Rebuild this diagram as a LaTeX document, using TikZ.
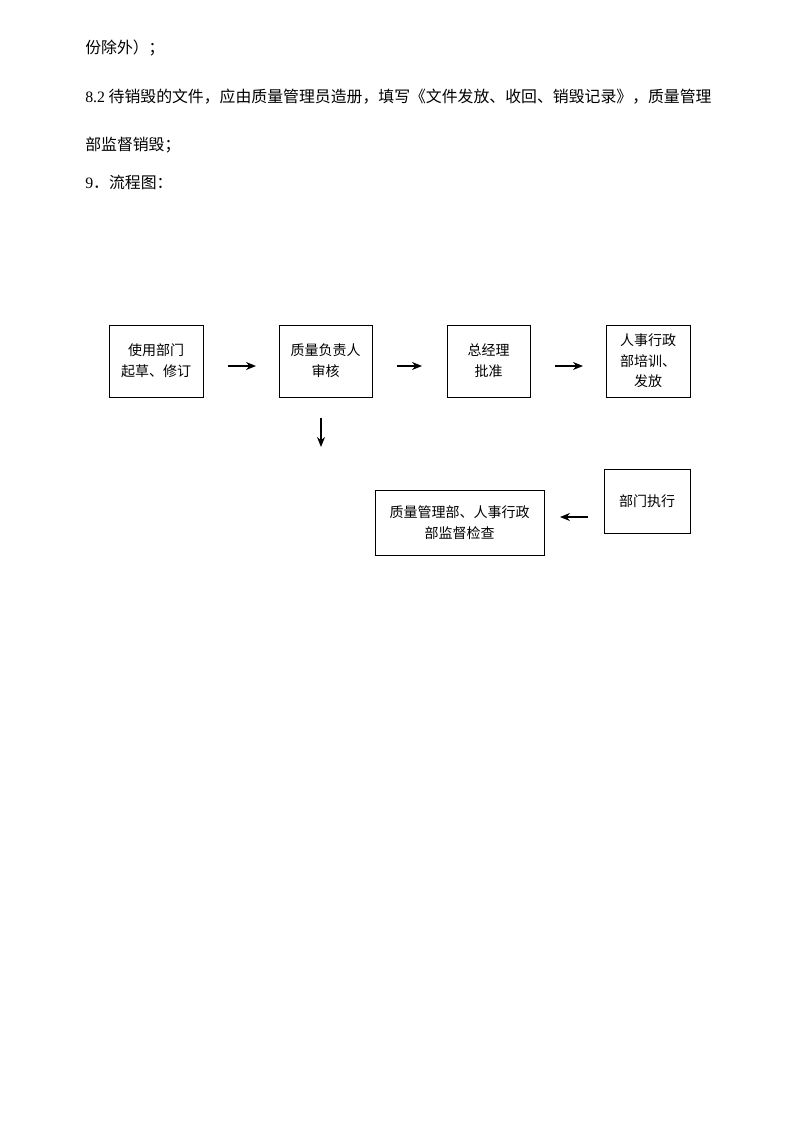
\documentclass[tikz,border=0pt]{standalone}
\usepackage{fontspec}
\usetikzlibrary{arrows.meta}
\setmainfont{Liberation Serif}
\newfontfamily\cjk{Noto Sans CJK SC}
\begin{document}
\begin{tikzpicture}[x=0.75pt,y=-0.75pt,
  box/.style={draw, line width=0.6pt, inner sep=0pt, align=center, font=\cjk\fontsize{10.5}{16}\selectfont},
  txt/.style={anchor=west, inner sep=0pt, font=\cjk\fontsize{11.9}{14}\selectfont},
  arr/.style={-{Stealth[length=7.5pt,width=6pt]}, line width=1.1pt}]
\path[use as bounding box, fill=white] (0,0) rectangle (800,1132);
\node[txt] (t1) at (85,48) {份除外）；};
\node[txt] (t2) at (85,97) {\rmfamily 8.2\cjk{} 待销毁的文件，应由质量管理员造册，填写《文件发放、收回、销毁记录》，质量管理};
\node[txt] (t3) at (85,145) {部监督销毁；};
\node[txt] (t4) at (85,182) {\rmfamily 9\cjk．流程图：};
\node[box, minimum width=94*0.75pt, minimum height=72*0.75pt] (b1) at (156,361) {使用部门\\起草、修订};
\node[box, minimum width=93*0.75pt, minimum height=72*0.75pt] (b2) at (325.5,361) {质量负责人\\审核};
\node[box, minimum width=83*0.75pt, minimum height=72*0.75pt] (b3) at (488.5,361) {总经理\\批准};
\node[box, minimum width=84*0.75pt, minimum height=72*0.75pt, font=\cjk\fontsize{10.5}{15.5}\selectfont] (b4) at (648,361) {人事行政\\部培训、\\发放};
\node[box, minimum width=86*0.75pt, minimum height=64*0.75pt] (b5) at (647,501) {部门执行};
\node[box, minimum width=169*0.75pt, minimum height=65*0.75pt] (b6) at (459.5,522.5) {质量管理部、人事行政\\部监督检查};
\coordinate (a1s) at (228,366); \coordinate (a1e) at (256,366);
\coordinate (a2s) at (397,366); \coordinate (a2e) at (422,366);
\coordinate (a3s) at (555,366); \coordinate (a3e) at (583,366);
\coordinate (a4s) at (321,418); \coordinate (a4e) at (321,447);
\coordinate (a5s) at (588,517); \coordinate (a5e) at (560,517);
\draw[arr] (a1s) -- (a1e);
\draw[arr] (a2s) -- (a2e);
\draw[arr] (a3s) -- (a3e);
\draw[arr] (a4s) -- (a4e);
\draw[arr] (a5s) -- (a5e);
\end{tikzpicture}
\end{document}
